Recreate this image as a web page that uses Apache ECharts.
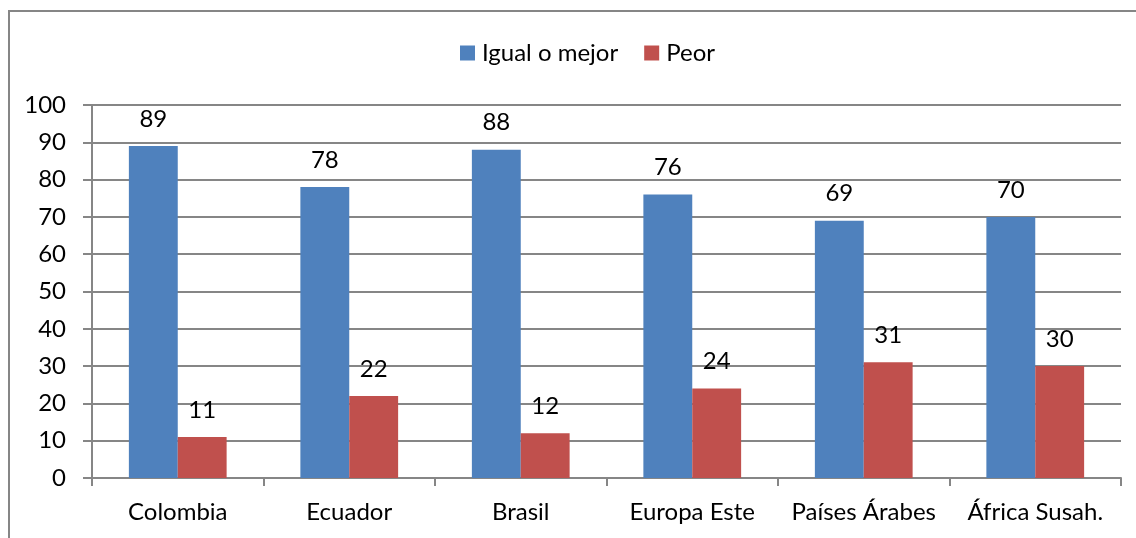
<!DOCTYPE html>
<html>
<head>
<meta charset="utf-8">
<script src="https://cdn.jsdelivr.net/npm/echarts@6/dist/echarts.min.js"></script>
<style>
  html, body { margin: 0; padding: 0; background: #fff; }
  #chart-container { width: 1136px; height: 538px; }
</style>
</head>
<body>
<div id="chart-container"></div>
<script>
'use strict';

const categories = ['Colombia', 'Ecuador', 'Brasil', 'Europa Este', 'Países Árabes', 'África Susah.'];
const igualOMejor = [89, 78, 88, 76, 69, 70];
const peor = [11, 22, 12, 24, 31, 30];
const yTicks = [0, 10, 20, 30, 40, 50, 60, 70, 80, 90, 100];

const font = 'Lato, "Open Sans", sans-serif';
const gray = '#868686';
const fs = 24;

const myChart = echarts.init(document.getElementById('chart-container'), null, { renderer: 'canvas' });

const labelStyle = {
    show: true,
    position: 'top',
    distance: 15,
    color: '#000',
    fontSize: fs,
    fontFamily: font
};

const option = {
    backgroundColor: '#fff',
    animation: false,
    graphic: [{
        type: 'rect',
        shape: { x: 9, y: 11, width: 1200, height: 600 },
        style: { fill: 'none', stroke: gray, lineWidth: 2 },
        silent: true
    }],
    legend: {
        top: 36,
        left: 455,
        itemWidth: 15,
        itemHeight: 15,
        itemGap: 26,
        icon: 'rect',
        textStyle: { fontSize: fs, fontFamily: font, color: '#000', padding: [0, 0, 0, 2] },
        data: ['Igual o mejor', 'Peor']
    },
    grid: {
        left: 92,
        right: 15,
        top: 105,
        bottom: 60,
        containLabel: false
    },
    xAxis: {
        type: 'category',
        data: categories,
        axisLine: { lineStyle: { color: gray, width: 2 } },
        axisTick: { show: true, length: 8, interval: 0, alignWithLabel: false, lineStyle: { color: gray, width: 2 } },
        axisLabel: { color: '#000', fontSize: fs, fontFamily: font, margin: 22, interval: 0 }
    },
    yAxis: {
        type: 'value',
        min: yTicks[0],
        max: yTicks[yTicks.length - 1],
        interval: 10,
        axisLine: { show: true, lineStyle: { color: gray, width: 2 } },
        axisTick: { show: true, length: 9, lineStyle: { color: gray, width: 2 } },
        splitLine: { lineStyle: { color: gray, width: 2 } },
        axisLabel: { color: '#000', fontSize: fs, fontFamily: font, margin: 26 }
    },
    series: [
        {
            name: 'Igual o mejor',
            type: 'bar',
            data: igualOMejor,
            barGap: '0%',
            barCategoryGap: '43%',
            itemStyle: { color: '#4F81BD' },
            label: labelStyle
        },
        {
            name: 'Peor',
            type: 'bar',
            data: peor,
            barGap: '0%',
            barCategoryGap: '43%',
            itemStyle: { color: '#C0504D' },
            label: labelStyle
        }
    ]
};

myChart.setOption(option);
window.addEventListener('resize', myChart.resize);
</script>
</body>
</html>
